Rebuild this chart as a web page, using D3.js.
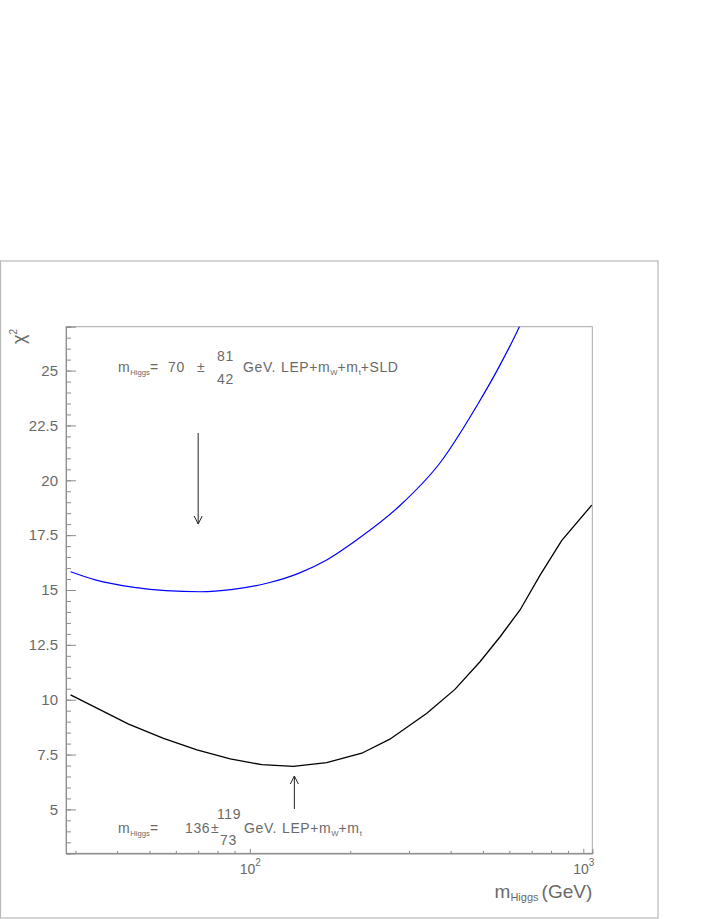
<!DOCTYPE html>
<html>
<head>
<meta charset="utf-8">
<script src="https://cdn.jsdelivr.net/npm/d3@7"></script>
<style>
  body { margin: 0; background: #fff; }
  text { font-family: "Liberation Sans", Arial, sans-serif; fill: #6a6a6a; }
</style>
</head>
<body>
<div id="app"></div>
<script>
// fit results: chi2 vs Higgs mass
const massBlack = [29, 43.3, 55.1, 69.4, 87.3, 108.6, 135, 170, 216.6, 263, 339.5, 412, 490, 563, 646, 742, 861, 1060];
const chi2Black = [10.22, 8.89, 8.24, 7.71, 7.30, 7.04, 6.96, 7.13, 7.56, 8.20, 9.38, 10.47, 11.73, 12.87, 14.09, 15.68, 17.25, 18.87];

const massBlue = [29, 34.4, 45, 56, 71, 89, 114, 140, 170, 209, 282, 372, 484, 563, 643, 700];
const chi2Blue = [15.83, 15.46, 15.12, 14.97, 14.92, 15.03, 15.33, 15.76, 16.37, 17.28, 18.85, 20.8, 23.5, 25.26, 27.0, 28.3];

const yMajorTicks = [5, 7.5, 10, 12.5, 15, 17.5, 20, 22.5, 25];
const yMinorTicks = d3.range(3, 27.01, 0.5);
const xMajorTicks = [100, 1000];
const xMinorTicks = [30, 40, 50, 60, 70, 80, 90, 200, 300, 400, 500, 600, 700, 800, 900];

const W = 710, H = 919;
const padL = 66, padR = 592.3, padT = 326.7, padB = 853.3;

const svg = d3.select("#app").append("svg")
  .attr("width", W)
  .attr("height", H);

// outer pad frame
svg.append("rect")
  .attr("x", 0.5).attr("y", 261)
  .attr("width", 657.5).attr("height", 657)
  .attr("fill", "none").attr("stroke", "#b8b8b8").attr("stroke-width", 1.2);

const x = d3.scaleLog().domain([28.1, 1064]).range([padL, padR]);
const y = d3.scaleLinear().domain([3, 27]).range([padB, padT]);

// plot frame
svg.append("rect")
  .attr("x", padL).attr("y", padT)
  .attr("width", padR - padL).attr("height", padB - padT)
  .attr("fill", "none").attr("stroke", "#a8a8a8").attr("stroke-width", 1);

// y axis
const yMinor = svg.append("g")
  .attr("transform", "translate(" + padL + ",0)")
  .call(d3.axisLeft(y).tickValues(yMinorTicks).tickSize(-5).tickFormat(""));
const yMajor = svg.append("g")
  .attr("transform", "translate(" + padL + ",0)")
  .call(d3.axisLeft(y).tickValues(yMajorTicks).tickSize(-10).tickPadding(8)
    .tickFormat(d => d % 1 ? d.toFixed(1) : d));

// x axis
const xMinor = svg.append("g")
  .attr("transform", "translate(0," + padB + ")")
  .call(d3.axisBottom(x).tickValues(xMinorTicks).tickSize(-2.5).tickFormat(""));
const xMajor = svg.append("g")
  .attr("transform", "translate(0," + padB + ")")
  .call(d3.axisBottom(x).tickValues(xMajorTicks).tickSize(-4.5).tickFormat(""));

[yMinor, yMajor, xMinor, xMajor].forEach(g => {
  g.select(".domain").attr("stroke", "#8c8c8c");
  g.selectAll(".tick line").attr("stroke", "#8c8c8c");
  g.selectAll(".tick text").attr("fill", "#6a6a6a").style("font-size", "15px")
    .style("font-family", "Liberation Sans, Arial, sans-serif");
});

// 10^n labels
xMajor.selectAll(".tick").append("text")
  .attr("y", 21).attr("text-anchor", "middle")
  .style("font-size", "14px")
  .each(function(d) {
    const t = d3.select(this);
    t.append("tspan").text("10");
    t.append("tspan").attr("dy", -8).style("font-size", "10px").text(Math.round(Math.log10(d)));
  });

// curves
svg.append("clipPath").attr("id", "plotclip")
  .append("rect").attr("x", padL).attr("y", padT)
  .attr("width", padR - padL).attr("height", padB - padT);

const plot = svg.append("g").attr("clip-path", "url(#plotclip)");

const blackLine = d3.line().x(d => x(d[0])).y(d => y(d[1]));
const blueLine = d3.line().x(d => x(d[0])).y(d => y(d[1])).curve(d3.curveMonotoneX);

plot.append("path")
  .datum(d3.zip(massBlue, chi2Blue))
  .attr("d", blueLine)
  .attr("fill", "none").attr("stroke", "#0000ff").attr("stroke-width", 1.2);

plot.append("path")
  .datum(d3.zip(massBlack, chi2Black))
  .attr("d", blackLine)
  .attr("fill", "none").attr("stroke", "#000").attr("stroke-width", 1.3);

// arrows at the two minima
function arrow(x0, y0, y1) {
  const dir = y1 > y0 ? 1 : -1;
  const g = svg.append("g").attr("stroke", "#222").attr("stroke-width", 1).attr("fill", "none");
  g.append("line").attr("x1", x0).attr("x2", x0).attr("y1", y0).attr("y2", y1);
  g.append("path").attr("d", "M" + (x0 - 4) + "," + (y1 - dir * 8) + "L" + x0 + "," + y1 + "L" + (x0 + 4) + "," + (y1 - dir * 8));
}
arrow(x(70), 433, 524);
arrow(x(136), 809, 776);

// rich text pieces
function rich(xp, yp, parts, size) {
  const t = svg.append("text").attr("x", xp).attr("y", yp)
    .style("font-size", size + "px").style("letter-spacing", "0.6px");
  let shift = 0;
  parts.forEach(p => {
    const want = p.sub ? 3 : 0;
    const s = t.append("tspan").attr("dy", want - shift).text(p.t);
    if (p.sub) s.style("font-size", (size * 0.55) + "px").style("letter-spacing", "0px");
    shift = want;
  });
  return t;
}

// upper annotation
rich(118, 372, [{t: "m"}, {t: "Higgs", sub: true}, {t: "="}], 14);
rich(168, 372, [{t: "70"}], 14);
rich(197, 372, [{t: "±"}], 14);
rich(217, 361, [{t: "81"}], 14);
rich(217, 384, [{t: "42"}], 14);
rich(243, 372, [{t: "GeV."}], 14);
rich(281, 372, [{t: "LEP+m"}, {t: "W", sub: true}, {t: "+m"}, {t: "t", sub: true}, {t: "+SLD"}], 14);

// lower annotation
rich(118, 833, [{t: "m"}, {t: "Higgs", sub: true}, {t: "="}], 14);
rich(185, 833, [{t: "136"}], 14);
rich(211, 833, [{t: "±"}], 14);
rich(217, 819, [{t: "119"}], 14);
rich(220, 845, [{t: "73"}], 14);
rich(244, 833, [{t: "GeV."}], 14);
rich(282, 833, [{t: "LEP+m"}, {t: "W", sub: true}, {t: "+m"}, {t: "t", sub: true}], 14);

// axis titles
const xt = svg.append("text").attr("x", padR).attr("y", 898)
  .attr("text-anchor", "end").style("font-size", "19px");
xt.append("tspan").text("m");
xt.append("tspan").attr("dy", 3).style("font-size", "11px").text("Higgs ");
xt.append("tspan").attr("dy", -3).text("(GeV)");

const yt = svg.append("text")
  .attr("transform", "translate(25,344) rotate(-90)")
  .attr("text-anchor", "start").style("font-size", "18px");
yt.append("tspan").text("χ");
yt.append("tspan").attr("dy", -8).style("font-size", "10px").text("2");
</script>
</body>
</html>
